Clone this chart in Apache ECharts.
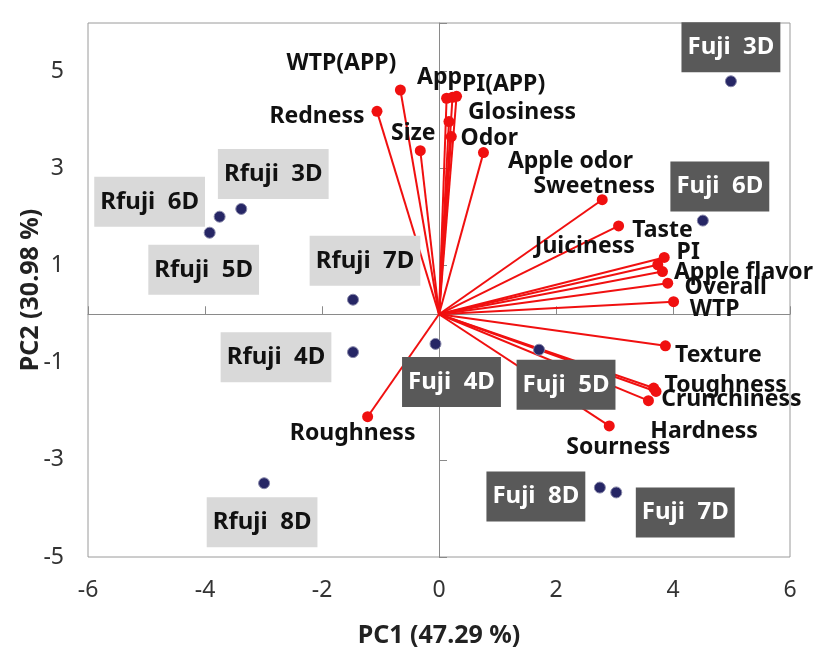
<!DOCTYPE html>
<html>
<head>
<meta charset="utf-8">
<script src="https://cdn.jsdelivr.net/npm/echarts@6/dist/echarts.min.js"></script>
<style>html,body{margin:0;padding:0;background:#fff;}#c{width:827px;height:657px;}</style>
</head>
<body>
<div id="c"></div>
<script>
// ---- data ----
const sampleNames = ['Fuji  3D','Fuji  6D','Rfuji  3D','Rfuji  6D','Rfuji  5D','Rfuji  7D','Rfuji  4D','Rfuji  8D','Fuji  4D','Fuji  5D','Fuji  8D','Fuji  7D'];
const sampleX = [4.99, 4.51, -3.38, -3.75, -3.92, -1.47, -1.47, -2.99, -0.06, 1.71, 2.75, 3.03];
const sampleY = [4.80, 1.93, 2.17, 2.01, 1.68, 0.30, -0.78, -3.48, -0.61, -0.73, -3.57, -3.67];

const attrNames = ['Redness','WTP(APP)','Size','App','','PI(APP)','Glosiness','Odor','Apple odor','Sweetness','Taste','PI','Juiciness','Apple flavor','Overall','WTP','Texture','Toughness','Hardness','Crunchiness','Sourness','Roughness'];
const attrX = [-1.06, -0.66, -0.32, 0.13, 0.23, 0.30, 0.17, 0.21, 0.76, 2.79, 3.07, 3.85, 3.74, 3.82, 3.91, 4.01, 3.87, 3.67, 3.71, 3.58, 2.91, -1.22];
const attrY = [4.18, 4.62, 3.37, 4.45, 4.47, 4.49, 3.97, 3.66, 3.33, 2.36, 1.82, 1.17, 1.02, 0.88, 0.64, 0.26, -0.65, -1.52, -1.59, -1.78, -2.30, -2.11];

const xTicks = {min: -6, max: 6, interval: 2};
const yTicks = {min: -5, max: 6, interval: 2};

// ---- label placement (pixel offsets, styling only) ----
const sampleOffsets = [[0,-34],[17,-34],[32,-35],[-70,-15],[-6,37],[12,-39],[-77,5],[-2,39],[16,38],[27,35],[-64,9],[69,20]];
const attrOffsets = [[-60,5],[-59,-27],[-7,-17],[-7,-21],[0,0],[47,-12],[73,-9],[38,2],[87,9],[-8,-13],[44,5],[24,-5],[-73,-18],[81,1],[58,4],[41,8],[53,10],[72,-3],[48,40],[83,-1],[9,22],[-15,17]];

const FONT = 'Noto Sans';
const chart = echarts.init(document.getElementById('c'));

const vectorLines = attrNames.map((n,i) => ({coords: [[0,0],[attrX[i],attrY[i]]]}));
const vectorEnds = attrNames.map((n,i) => ({
  name: n, value: [attrX[i], attrY[i]],
  label: {offset: attrOffsets[i]}
}));
const samples = sampleNames.map((n,i) => {
  const fuji = n.indexOf('Rfuji') !== 0;
  return {
    name: n, value: [sampleX[i], sampleY[i]],
    label: {
      offset: sampleOffsets[i],
      color: fuji ? '#ffffff' : '#111111',
      backgroundColor: fuji ? '#595959' : '#d9d9d9'
    }
  };
});

const xBase = {type:'value', min:xTicks.min, max:xTicks.max, interval:xTicks.interval, splitLine:{show:false}};
const yBase = {type:'value', min:yTicks.min, max:yTicks.max, interval:yTicks.interval, splitLine:{show:false}};

chart.setOption({
  animation: false,
  backgroundColor: '#ffffff',
  grid: {left: 88, right: 37, top: 23, bottom: 100, show: true, borderColor: '#9a9a9a', borderWidth: 1, backgroundColor: 'transparent'},
  xAxis: [
    Object.assign({}, xBase, {
      position: 'bottom',
      axisLine: {show: false, onZero: false},
      axisTick: {show: false},
      axisLabel: {fontFamily: FONT, fontSize: 23, color: '#333', margin: 22,
        showMinLabel: true, showMaxLabel: true},
      name: 'PC1 (47.29 %)', nameLocation: 'middle', nameGap: 66, nameMoveOverlap: false,
      nameTextStyle: {fontFamily: FONT, fontSize: 25, fontWeight: 'bold', color: '#222'}
    }),
    Object.assign({}, xBase, {
      position: 'top',
      axisLine: {show: true, onZero: true, lineStyle: {color: '#8a8a8a', width: 1}},
      axisTick: {show: true, inside: false, length: 8, lineStyle: {color: '#8a8a8a'}},
      axisLabel: {show: false}
    })
  ],
  yAxis: [
    Object.assign({}, yBase, {
      position: 'left',
      axisLine: {show: false, onZero: false},
      axisTick: {show: false},
      axisLabel: {fontFamily: FONT, fontSize: 23, color: '#333', margin: 24,
        formatter: v => (v === 6 ? '' : String(v))},
      name: 'PC2 (30.98 %)', nameLocation: 'middle', nameGap: 45, nameRotate: 90, nameMoveOverlap: false,
      nameTextStyle: {fontFamily: FONT, fontSize: 25, fontWeight: 'bold', color: '#222'}
    }),
    Object.assign({}, yBase, {
      position: 'right',
      axisLine: {show: true, onZero: true, onZeroAxisIndex: 0, lineStyle: {color: '#8a8a8a', width: 1}},
      axisTick: {show: true, inside: false, length: 8, lineStyle: {color: '#8a8a8a'}},
      axisLabel: {show: false}
    })
  ],
  series: [
    {
      type: 'lines', coordinateSystem: 'cartesian2d', xAxisIndex: 0, yAxisIndex: 0,
      data: vectorLines, z: 2,
      lineStyle: {color: '#f01010', width: 2, opacity: 1, curveness: 0},
      symbol: ['none','none'], silent: true
    },
    {
      type: 'scatter', xAxisIndex: 0, yAxisIndex: 0, z: 3,
      data: vectorEnds, symbolSize: 11,
      itemStyle: {color: '#f01010', opacity: 1},
      label: {show: true, position: 'inside', formatter: '{b}', fontFamily: FONT, fontSize: 23,
        fontWeight: 'bold', color: '#111', align: 'center', verticalAlign: 'middle'}
    },
    {
      type: 'scatter', xAxisIndex: 0, yAxisIndex: 0, z: 5,
      data: samples, symbolSize: 11,
      itemStyle: {color: '#262665', borderColor: '#8888aa', borderWidth: 1, opacity: 1},
      label: {show: true, position: 'inside', formatter: '{b}', fontFamily: FONT, fontSize: 24,
        fontWeight: 'bold', align: 'center', verticalAlign: 'middle', padding: [13, 6, 13, 6]}
    }
  ]
});
</script>
</body>
</html>
